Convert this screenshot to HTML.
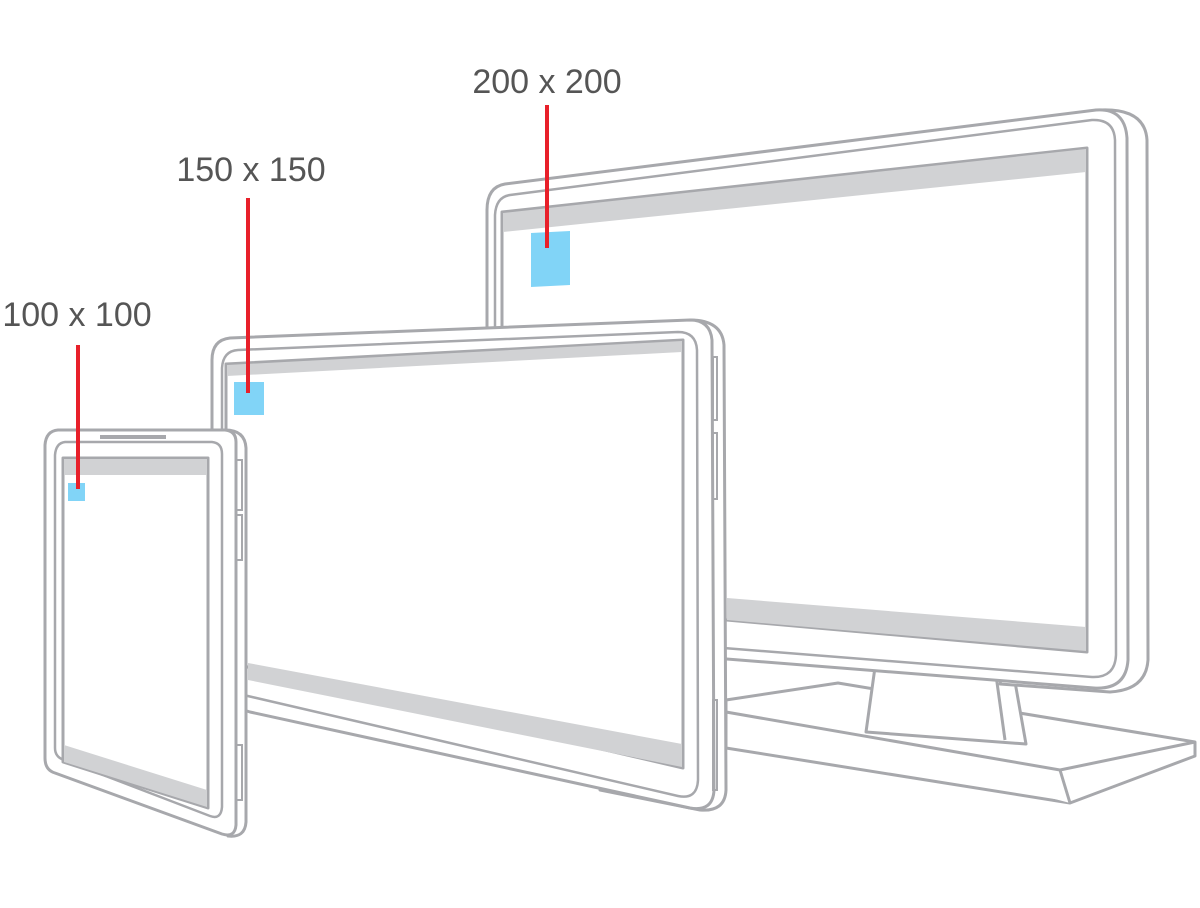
<!DOCTYPE html>
<html><head><meta charset="utf-8"><style>
html,body{margin:0;padding:0;background:#fff;}
svg{display:block}
text{font-family:"Liberation Sans",sans-serif;font-size:34px;fill:#555;}
</style></head><body>
<svg width="1200" height="908" viewBox="0 0 1200 908" xmlns="http://www.w3.org/2000/svg">
<g fill="#fff" stroke="#a7a8ac" stroke-width="3" stroke-linejoin="round">
<!-- Monitor stand base -->
<path d="M726,700 L838,683 L1195,742 L1195,756 L1070,803 L726,748 Z"/>
<path d="M726,712 L1060,770 L1070,803"/>
<path d="M1060,770 L1195,742" fill="none"/>
<!-- neck -->
<path d="M876,660 L866,732 L1026,744 L1012,665 Z"/>
<path d="M995,668 L1005,740" fill="none"/>
<!-- monitor back shell -->
<path d="M1100,110 Q1145,108 1147,140 L1148,660 Q1146,690 1110,692 L1000,684 Z"/>
<!-- monitor frame -->
<path d="M505,184 L1096,110 Q1125,108 1127,138 L1128,660 Q1126,690 1094,688 L487,640 L487,210 Q487,187 505,184 Z"/>
<path d="M510,195 L1092,120 Q1114,119 1115,140 L1116,655 Q1115,678 1092,677 L495,630 L495,215 Q496,197 510,195 Z" stroke-width="2.5"/>
<!-- monitor screen -->
<path d="M502,212 L1087,148 L1087,652 L502,600 Z" stroke-width="3"/>
</g>
<path d="M503,213 L1086,149 L1086,172 L503,232 Z" fill="#d1d2d4"/>
<path d="M727,598 L1086,627 L1086,651 L727,620 Z" fill="#d1d2d4"/>
<path d="M531,233 L570,231 L570,285 L531,287 Z" fill="#81d4f7"/>

<g fill="#fff" stroke="#a7a8ac" stroke-width="3" stroke-linejoin="round">
<!-- tablet shell -->
<path d="M690,320 Q722,320 724,345 L726,790 Q725,812 700,810 L600,790 Z"/>
<!-- tablet frame -->
<path d="M230,338 L690,320 Q710,320 712,340 L714,790 Q713,812 690,808 L250,712 L212,700 L212,360 Q212,340 230,338 Z"/>
<path d="M238,350 L678,332 Q696,332 697,350 L698,780 Q697,800 678,796 L222,690 L222,368 Q223,351 238,350 Z" stroke-width="2.5"/>
<!-- tablet screen -->
<path d="M226,364 L683,340 L683,768 L226,662 Z"/>
</g>
<path d="M227,365 L682,341 L682,352 L227,376 Z" fill="#d1d2d4"/>
<path d="M248,663 L682,744 L682,767 L248,680 Z" fill="#d1d2d4"/>
<g fill="none" stroke="#a7a8ac" stroke-width="2">
<rect x="713" y="357" width="4" height="63"/>
<rect x="713" y="433" width="4" height="66"/>
<rect x="713" y="700" width="4" height="90"/>
</g>
<path d="M234,382 L264,382 L264,415 L234,415 Z" fill="#81d4f7"/>

<g fill="#fff" stroke="#a7a8ac" stroke-width="3" stroke-linejoin="round">
<!-- phone shell -->
<path d="M225,430 Q245,430 246,448 L246,822 Q245,838 228,836 Z"/>
<!-- phone frame -->
<path d="M58,430 L225,430 Q236,431 236,442 L236,825 Q235,838 222,834 L55,773 Q45,770 45,758 L45,445 Q46,431 58,430 Z"/>
<path d="M65,442 L212,442 Q222,443 222,454 L222,807 Q221,820 210,816 L64,760 Q55,757 55,748 L55,455 Q56,443 65,442 Z" stroke-width="2.5"/>
<!-- phone screen -->
<path d="M63,458 L208,458 L208,808 L63,762 Z"/>
</g>
<path d="M64,459 L207,459 L207,475 L64,475 Z" fill="#d1d2d4"/>
<path d="M64,745 L207,790 L207,807 L64,762 Z" fill="#d1d2d4"/>
<line x1="100" y1="437" x2="166" y2="437" stroke="#a7a8ac" stroke-width="4"/>
<g fill="none" stroke="#a7a8ac" stroke-width="2">
<rect x="236" y="460" width="6" height="50"/>
<rect x="236" y="515" width="6" height="45"/>
<rect x="236" y="745" width="6" height="55"/>
</g>
<rect x="68" y="483" width="17" height="18" fill="#81d4f7"/>

<!-- red leaders -->
<g stroke="#e8202a" stroke-width="4">
<line x1="547" y1="105" x2="547" y2="248"/>
<line x1="248" y1="198" x2="248" y2="393"/>
<line x1="78" y1="345" x2="78" y2="489"/>
</g>
<text x="547" y="93" text-anchor="middle">200 x 200</text>
<text x="251" y="181" text-anchor="middle">150 x 150</text>
<text x="77" y="326" text-anchor="middle">100 x 100</text>
</svg>
</body></html>
